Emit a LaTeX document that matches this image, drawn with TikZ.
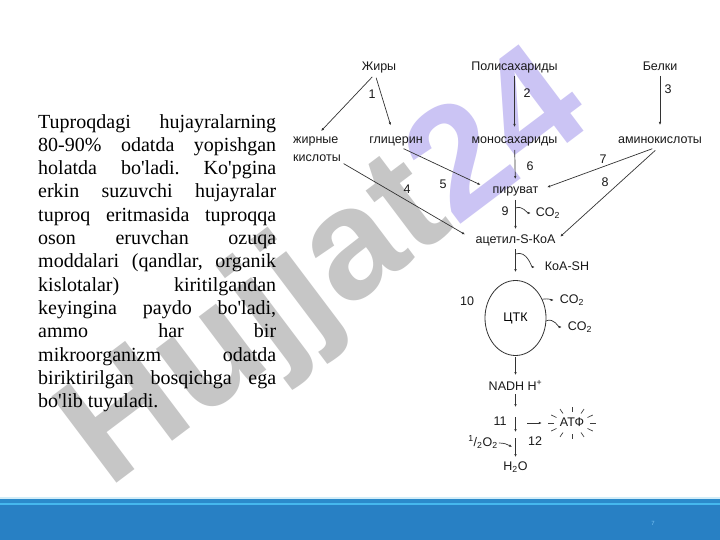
\documentclass[tikz,border=0pt]{standalone}
\usepackage{fontspec}
\setmainfont{Liberation Serif}[Ligatures=TeXOff]
\newfontfamily\diagfont{Liberation Sans}
\usetikzlibrary{arrows.meta,shapes.geometric}
\definecolor{barblue}{HTML}{2880C4}
\definecolor{bardark}{HTML}{2B8ACB}
\definecolor{barline}{HTML}{45B8EE}
\definecolor{barpale}{HTML}{D2EDF8}
\definecolor{wmgray}{HTML}{C6C6C6}
\definecolor{wmpurple}{HTML}{CBC4F4}
\definecolor{pagenum}{HTML}{7CC3F2}

\begin{document}
\frenchspacing
\begin{tikzpicture}[x=1pt,y=-1pt]
    % Define style for the labels, arrows and the cycle
    \tikzstyle{lbl} = [font=\diagfont\fontsize{12.5}{15}\selectfont, text=black!90, inner sep=1pt, text height=9pt, text depth=2.6pt]
    \tikzstyle{twoline} = [font=\diagfont\fontsize{12.5}{18}\selectfont, text=black!90, inner sep=1pt, align=left]
    \tikzstyle{arr} = [-{Latex[length=3pt,width=2.6pt]}, draw=black!80, line width=0.7pt]
    \tikzstyle{ray} = [draw=black!75, line width=0.7pt]
    \tikzstyle{tcabox} = [ellipse, draw=black!80, line width=0.8pt, minimum width=61pt, minimum height=75pt, inner sep=0pt, font=\diagfont\fontsize{12.5}{15}\selectfont]

    % Page and bottom bar
    \fill[white] (0,0) rectangle (720,540);
    \useasboundingbox (0,0) rectangle (720,540);
    \node[rotate=37, anchor=base west, inner sep=0pt, font=\diagfont\bfseries\fontsize{157}{157}\selectfont] (watermark) at (108,490) {\textcolor{wmgray}{Hujjat}\textcolor{wmpurple}{24}};
    \fill[barpale] (0,497) rectangle (720,499);
    \fill[bardark] (0,499) rectangle (720,503);
    \fill[barline] (0,503) rectangle (720,505);
    \fill[barblue] (0,505) rectangle (720,540);
    \node[font=\diagfont\fontsize{6}{7}\selectfont, text=pagenum] (page) at (653,523) {7};

    % Draw the text
    \node[anchor=north west, inner sep=0pt, align=left, font=\fontsize{20}{23.3}\selectfont] (para) at (38,114) {%
        \makebox[238pt][s]{Tuproqdagi hujayralarning}\\
        \makebox[238pt][s]{80-90\% odatda yopishgan}\\
        \makebox[238pt][s]{holatda bo'ladi. Ko'pgina}\\
        \makebox[238pt][s]{erkin suzuvchi hujayralar}\\
        \makebox[238pt][s]{tuproq eritmasida tuproqqa}\\
        \makebox[238pt][s]{oson eruvchan ozuqa}\\
        \makebox[238pt][s]{moddalari (qandlar, organik}\\
        \makebox[238pt][s]{kislotalar) kiritilgandan}\\
        \makebox[238pt][s]{keyingina paydo bo'ladi,}\\
        \makebox[238pt][s]{ammo har bir}\\
        \makebox[238pt][s]{mikroorganizm odatda}\\
        \makebox[238pt][s]{biriktirilgan bosqichga ega}\\
        bo'lib tuyuladi.};

    % Draw the substances
    \node[lbl] (fats) at (379,67) {Жиры};
    \node[lbl] (polysac) at (514.5,67) {Полисахариды};
    \node[lbl] (proteins) at (660,67) {Белки};
    \node[twoline, anchor=west] (fattyacids) at (292,149) {жирные\\кислоты};
    \node[lbl] (glycerol) at (396,140) {глицерин};
    \node[lbl] (monosac) at (514.5,140) {моносахариды};
    \node[lbl] (aminoacids) at (660,140) {аминокислоты};
    \node[lbl] (pyruvate) at (515.5,190) {пируват};
    \node[lbl] (co2a) at (548,213) {CO\textsubscript{2}};
    \node[lbl] (acetyl) at (515.5,240) {ацетил-S-КоА};
    \node[lbl] (koash) at (567,267) {КоА-SH};
    \node[tcabox] (tca) at (515.5,318) {ЦТК};
    \node[lbl] (co2b) at (572,300) {CO\textsubscript{2}};
    \node[lbl] (co2c) at (580,327) {CO\textsubscript{2}};
    \node[lbl] (nadh) at (515.5,387) {NADH H\textsuperscript{+}};
    \node[lbl] (atp) at (572,423) {АТФ};
    \node[lbl] (halfo2) at (483,443) {\textsuperscript{1}/\textsubscript{2}O\textsubscript{2}};
    \node[lbl] (water) at (515.5,467) {H\textsubscript{2}O};

    % Draw the step numbers
    \foreach \n/\x/\y in {1/372/95, 2/527/94, 3/668/90, 4/407/190, 5/443/185, 6/530/167,
                          7/603/160, 8/605/183, 9/505/212, 10/467/302, 11/500/422, 12/535/442} {
        \node[lbl] (n\n) at (\x,\y) {\n};
    }

    % Draw arrows between the substances
    \draw[arr, shorten <=4pt, shorten >=6pt] ([xshift=-4pt]fats.south) -- (fattyacids.north);
    \draw[arr, shorten <=4pt, shorten >=8pt] ([xshift=-4pt]fats.south) -- ([xshift=-3pt]glycerol.north);
    \draw[arr, shorten <=2pt, shorten >=6pt] (polysac) -- (monosac);
    \draw[arr, shorten <=2pt, shorten >=8pt] (proteins) -- (aminoacids);
    \draw[arr, shorten <=3pt, shorten >=4pt] (monosac) -- (pyruvate);
    \draw[arr, shorten <=4pt, shorten >=12pt] ([xshift=4pt]glycerol.south) -- (pyruvate.west);
    \draw[arr, shorten <=2pt, shorten >=11pt] (fattyacids.south east) -- (acetyl.west);
    \draw[arr, shorten <=5pt, shorten >=8pt] ([xshift=-3pt]aminoacids.south) -- (pyruvate.east);
    \draw[arr, shorten <=5pt, shorten >=5pt] ([xshift=-1pt]aminoacids.south) -- (acetyl.east);
    \draw[arr, shorten <=3pt, shorten >=4pt] (pyruvate) -- (acetyl);
    \coordinate (br9) at (515.5,208);
    \draw[arr, shorten >=4pt] (br9) to[out=20,in=180] (co2a.west);
    \draw[arr, shorten <=2pt, shorten >=8pt] (acetyl) -- (tca);
    \coordinate (brk) at (515.5,254);
    \draw[arr, shorten >=9pt] (brk) to[out=20,in=180] (koash.west);
    \draw[arr, shorten >=5pt] (tca.35) to[out=10,in=180] (co2b.west);
    \draw[arr, shorten >=5pt] (tca.-5) to[out=20,in=180] (co2c.west);
    \draw[arr, shorten <=1.5pt, shorten >=5pt] (tca) -- (nadh);

    % Draw the respiratory chain
    \coordinate (s1) at (515.5,407);
    \coordinate (s2a) at (515.5,417);
    \coordinate (s2b) at (515.5,432);
    \coordinate (s3a) at (515.5,438);
    \coordinate (o2in) at (512,447);
    \coordinate (c12) at (527,423);
    \draw[arr] (nadh) -- (s1);
    \draw[arr] (s2a) -- (s2b);
    \draw[arr, shorten >=3pt] (s3a) -- (water);
    \draw[arr] (halfo2.east) to[out=0,in=150] (o2in);
    \draw[arr, shorten >=17pt] (c12) -- (atp);
    \foreach \a in {0,30,...,330} {
        \draw[ray] ([shift={(\a:18 and 11)}]atp.center) -- ([shift={(\a:24 and 16)}]atp.center);
    }
\end{tikzpicture}
\end{document}
